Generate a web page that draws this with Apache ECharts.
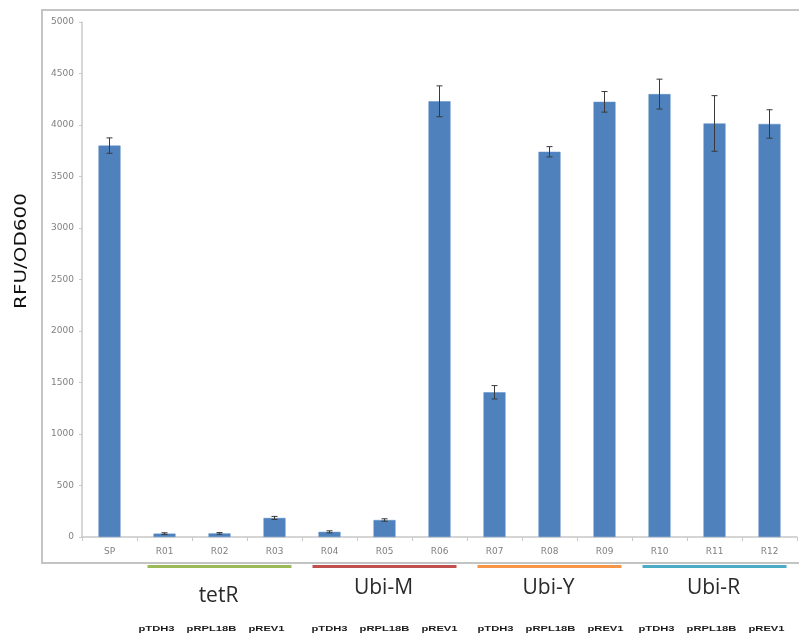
<!DOCTYPE html>
<html>
<head>
<meta charset="utf-8">
<script src="https://cdn.jsdelivr.net/npm/echarts@6/dist/echarts.min.js"></script>
<style>
  html, body { margin: 0; padding: 0; background: #fff; }
  #chart { width: 799px; height: 636px; }
</style>
</head>
<body>
<div id="chart"></div>
<script>
// Strains on the x axis
const categories = ['SP', 'R01', 'R02', 'R03', 'R04', 'R05', 'R06', 'R07', 'R08', 'R09', 'R10', 'R11', 'R12'];
// Mean fluorescence per OD600
const values = [3800, 33, 35, 185, 50, 165, 4230, 1405, 3740, 4225, 4300, 4015, 4010];
// Standard deviations for the error bars
const errors = [75, 8, 8, 15, 10, 12, 150, 65, 50, 100, 145, 270, 138];
// Y axis ticks
const yTicks = [0, 500, 1000, 1500, 2000, 2500, 3000, 3500, 4000, 4500, 5000];

// Construct groups under the axis: name, first/last strain, colour
const groupNames = ['tetR', 'Ubi-M', 'Ubi-Y', 'Ubi-R'];
const groupFirst = ['R01', 'R04', 'R07', 'R10'];
const groupLast = ['R03', 'R06', 'R09', 'R12'];
const groupColors = ['#9BBB59', '#C0504D', '#F79646', '#4BACC6'];
// Promoters driving each construct within a group
const promoters = ['pTDH3', 'pRPL18B', 'pREV1'];

const chart = echarts.init(document.getElementById('chart'));

const option = {
  animation: false,
  backgroundColor: '#ffffff',
  grid: { left: 82, right: 2, top: 22, bottom: 99, containLabel: false },
  xAxis: {
    type: 'category',
    data: categories,
    axisLine: { lineStyle: { color: '#c8c8c8', width: 1.5 } },
    axisTick: { show: true, alignWithLabel: false, length: 4, lineStyle: { color: '#c8c8c8' } },
    axisLabel: { color: '#808080', fontSize: 9, fontFamily: 'DejaVu Sans', margin: 10 }
  },
  yAxis: {
    type: 'value',
    min: yTicks[0],
    max: yTicks[yTicks.length - 1],
    interval: yTicks[1] - yTicks[0],
    axisLine: { show: true, lineStyle: { color: '#c8c8c8', width: 1.5 } },
    axisTick: { show: true, length: 3, lineStyle: { color: '#c8c8c8' } },
    axisLabel: {
      color: '#808080', fontSize: 9, fontFamily: 'DejaVu Sans', margin: 8,
      formatter: (v) => String(v)
    },
    splitLine: { show: false }
  },
  series: [
    {
      type: 'bar',
      data: values,
      barWidth: '40%',
      itemStyle: { color: '#4F81BD', borderColor: '#5b8cc6', borderWidth: 0.5 }
    },
    {
      type: 'custom',
      data: values.map((v, i) => [i, v + errors[i], v - errors[i]]),
      encode: { x: 0, y: [1, 2] },
      z: 5,
      renderItem: function (params, api) {
        const hi = api.coord([api.value(0), api.value(1)]);
        const lo = api.coord([api.value(0), api.value(2)]);
        const cap = 3;
        const style = { stroke: '#3a3a3a', lineWidth: 1 };
        return {
          type: 'group',
          children: [
            { type: 'line', shape: { x1: hi[0], y1: hi[1], x2: lo[0], y2: lo[1] }, style: style },
            { type: 'line', shape: { x1: hi[0] - cap, y1: hi[1], x2: hi[0] + cap, y2: hi[1] }, style: style },
            { type: 'line', shape: { x1: lo[0] - cap, y1: lo[1], x2: lo[0] + cap, y2: lo[1] }, style: style }
          ]
        };
      }
    }
  ]
};

chart.setOption(option);

// Annotations below the plot, placed from the category axis positions
function xOf(cat) {
  return chart.convertToPixel({ xAxisIndex: 0 }, cat);
}

const graphics = [];
// Outer frame of the chart area
graphics.push({
  type: 'rect',
  shape: { x: 42, y: 10, width: 800, height: 553 },
  style: { fill: 'none', stroke: '#c4c4c4', lineWidth: 2 },
  silent: true
});
// Y axis title
graphics.push({
  type: 'text',
  x: 22, y: 251,
  rotation: Math.PI / 2,
  scaleX: 1.33,
  style: {
    text: 'RFU/OD600', fill: '#111', fontSize: 15, fontFamily: 'DejaVu Sans',
    align: 'center', verticalAlign: 'middle'
  }
});
const labelOffsets = [-8, 0, 1, -3];
const titleY = [596, 588, 588, 588];
groupNames.forEach((name, g) => {
  const a = xOf(groupFirst[g]);
  const b = xOf(groupLast[g]);
  const mid = (a + b) / 2;
  graphics.push({
    type: 'rect',
    shape: { x: mid - 72, y: 565, width: 144, height: 3 },
    style: { fill: groupColors[g] },
    silent: true
  });
  graphics.push({
    type: 'text',
    x: mid - 1, y: titleY[g],
    style: {
      text: name, fill: '#2a2a2a', fontSize: 21, fontFamily: 'Open Sans',
      align: 'center', verticalAlign: 'middle'
    }
  });
  const start = categories.indexOf(groupFirst[g]);
  promoters.forEach((p, k) => {
    graphics.push({
      type: 'text',
      x: xOf(categories[start + k]) + labelOffsets[g], y: 629,
      scaleX: 1.4,
      style: {
        text: p, fill: '#1a1a1a', fontSize: 8, fontWeight: 'bold',
        fontFamily: 'Liberation Sans', align: 'center', verticalAlign: 'middle'
      }
    });
  });
});

chart.setOption({ graphic: graphics });
</script>
</body>
</html>
